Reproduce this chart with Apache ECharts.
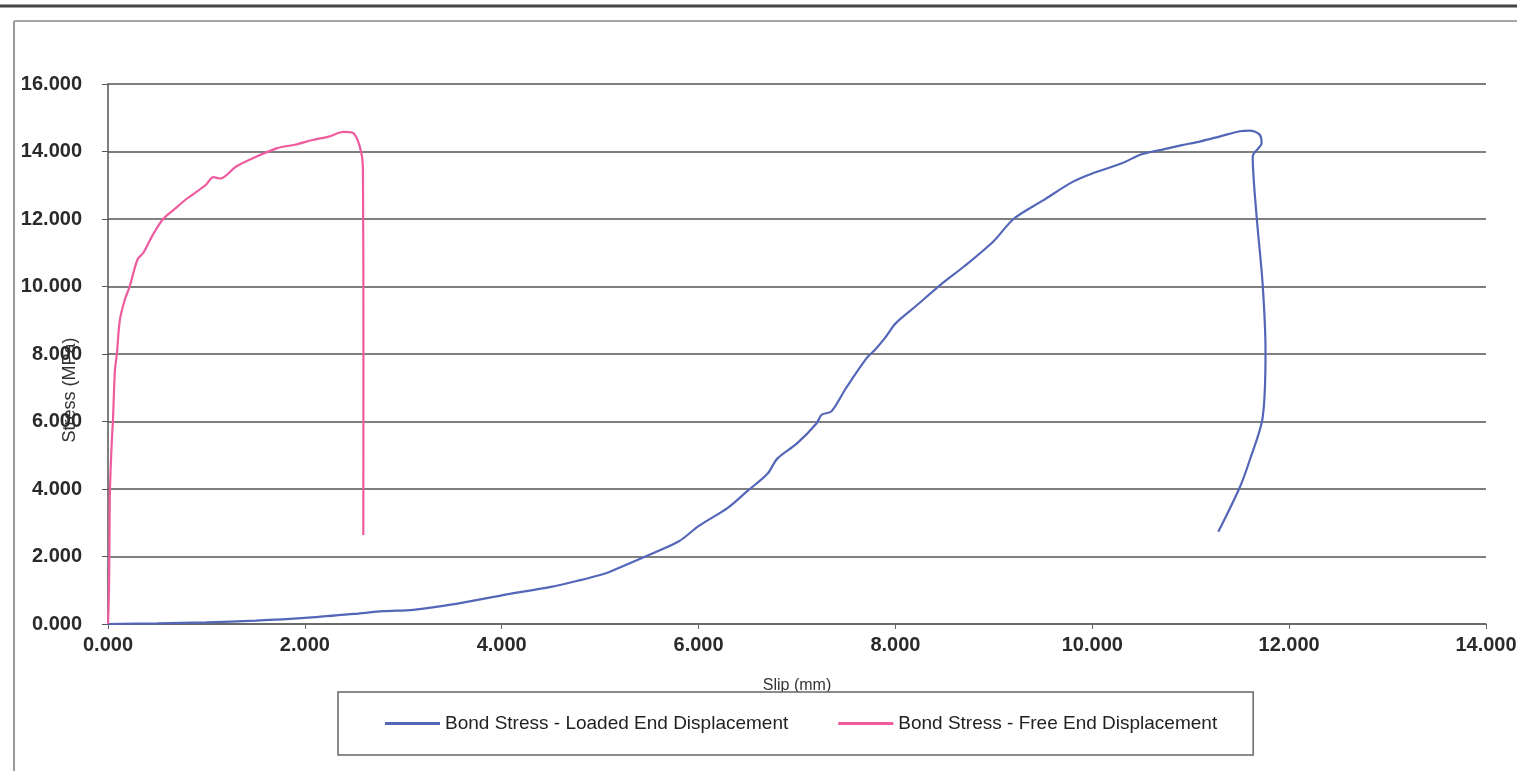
<!DOCTYPE html>
<html>
<head>
<meta charset="utf-8">
<title>Bond Stress vs Slip</title>
<script src="https://cdn.jsdelivr.net/npm/echarts@6/dist/echarts.min.js"></script>
<style>
  html, body { margin: 0; padding: 0; background: #fff; }
  #chart { width: 1517px; height: 771px; }
</style>
</head>
<body>
<div id="chart"></div>
<script>
// loaded end displacement (mm) vs bond stress (MPa)
const loadedSlip = [0, 0.5, 1.0, 1.5, 2.0, 2.5, 2.8, 3.1, 3.5, 4.0, 4.5, 4.8, 5.0, 5.1, 5.5, 5.8, 6.0, 6.3, 6.5, 6.7, 6.8, 7.0, 7.2, 7.25, 7.35, 7.5, 7.7, 7.8, 7.9, 8.0, 8.2, 8.5, 8.7, 9.0, 9.2, 9.5, 9.8, 10.0, 10.3, 10.5, 10.7, 10.9, 11.1, 11.3, 11.5, 11.6, 11.7, 11.72, 11.63, 11.67, 11.73, 11.76, 11.73, 11.6, 11.5, 11.28]
const loadedStress = [0, 0.02, 0.05, 0.10, 0.18, 0.30, 0.38, 0.42, 0.58, 0.85, 1.10, 1.30, 1.45, 1.55, 2.05, 2.45, 2.90, 3.45, 3.95, 4.45, 4.90, 5.35, 5.95, 6.20, 6.30, 7.00, 7.85, 8.15, 8.50, 8.90, 9.40, 10.15, 10.60, 11.35, 12.00, 12.55, 13.10, 13.35, 13.65, 13.92, 14.05, 14.18, 14.30, 14.45, 14.60, 14.62, 14.50, 14.25, 13.85, 12.06, 10.10, 8.10, 6.10, 4.86, 4.06, 2.73]

// free end displacement (mm) vs bond stress (MPa)
const freeSlip = [0, 0.01, 0.015, 0.02, 0.04, 0.05, 0.07, 0.09, 0.12, 0.17, 0.22, 0.30, 0.36, 0.45, 0.56, 0.70, 0.80, 0.99, 1.07, 1.14, 1.30, 1.51, 1.72, 1.90, 2.08, 2.25, 2.39, 2.49, 2.56, 2.59, 2.595, 2.594]
const freeStress = [0, 1.0, 2.5, 4.0, 5.5, 6.0, 7.5, 8.0, 9.0, 9.6, 10.0, 10.8, 11.0, 11.5, 12.0, 12.35, 12.6, 13.0, 13.24, 13.2, 13.55, 13.85, 14.1, 14.2, 14.34, 14.45, 14.58, 14.55, 14.13, 13.54, 8.0, 2.64]

const seriesNames = ['Bond Stress - Loaded End Displacement', 'Bond Stress - Free End Displacement']

const chart = echarts.init(document.getElementById('chart'))

function pairs(xs, ys) {
  return xs.map((x, i) => [x, ys[i]])
}

const fmt = v => v.toFixed(3)

chart.setOption({
  backgroundColor: '#fff',
  animation: false,
  textStyle: { fontFamily: 'Liberation Sans, Arial, sans-serif' },
  grid: { left: 108, right: 31, top: 84, bottom: 147, outerBoundsMode: 'none', containLabel: false },
  xAxis: {
    type: 'value',
    min: 0,
    max: 14,
    interval: 2,
    name: 'Slip (mm)',
    nameLocation: 'middle',
    nameGap: 54,
    nameTextStyle: { fontSize: 16, color: '#333' },
    axisLine: { lineStyle: { color: '#666', width: 1.5 } },
    axisTick: { show: true, length: 5, lineStyle: { color: '#666' } },
    axisLabel: { formatter: fmt, fontSize: 20, fontWeight: 'bold', color: '#2a2a2a', margin: 11 },
    splitLine: { show: false }
  },
  yAxis: {
    type: 'value',
    min: 0,
    max: 16,
    interval: 2,
    axisLine: { show: true, lineStyle: { color: '#555', width: 1.5 } },
    axisTick: { show: true, length: 6, lineStyle: { color: '#555' } },
    axisLabel: { formatter: fmt, fontSize: 20, fontWeight: 'bold', color: '#2a2a2a', margin: 26 },
    splitLine: { show: true, lineStyle: { color: '#555', width: 1.5 } }
  },
  legend: {
    left: 338,
    top: 692,
    orient: 'horizontal',
    padding: [22, 36, 22, 47],
    itemGap: 50,
    itemWidth: 55,
    itemHeight: 3,
    icon: 'rect',
    backgroundColor: '#fff',
    borderColor: '#666',
    borderWidth: 1.5,
    borderRadius: 0,
    z: 10,
    textStyle: { fontSize: 19, color: '#222' },
    data: seriesNames
  },
  graphic: [
    { type: 'line', shape: { x1: 0, y1: 6, x2: 1517, y2: 6 }, style: { stroke: '#444', lineWidth: 3 } },
    { type: 'line', shape: { x1: 14, y1: 21, x2: 1517, y2: 21 }, style: { stroke: '#888', lineWidth: 1.5 } },
    { type: 'line', shape: { x1: 14, y1: 21, x2: 14, y2: 771 }, style: { stroke: '#999', lineWidth: 2 } },
    {
      type: 'text',
      x: 70,
      y: 390,
      rotation: Math.PI / 2,
      style: {
        text: 'Stress (MPa)',
        fontSize: 18,
        fontFamily: 'Liberation Sans, Arial, sans-serif',
        fill: '#333',
        align: 'center',
        verticalAlign: 'middle'
      }
    }
  ],
  series: [
    {
      name: seriesNames[0],
      type: 'line',
      data: pairs(loadedSlip, loadedStress),
      showSymbol: false,
      symbol: 'none',
      smooth: 0.3,
      lineStyle: { color: '#5466b8', width: 2.2 },
      itemStyle: { color: '#5466b8' }
    },
    {
      name: seriesNames[1],
      type: 'line',
      data: pairs(freeSlip, freeStress),
      showSymbol: false,
      symbol: 'none',
      smooth: 0.3,
      lineStyle: { color: '#ee5c9f', width: 2.2 },
      itemStyle: { color: '#ee5c9f' }
    }
  ]
})
</script>
</body>
</html>
